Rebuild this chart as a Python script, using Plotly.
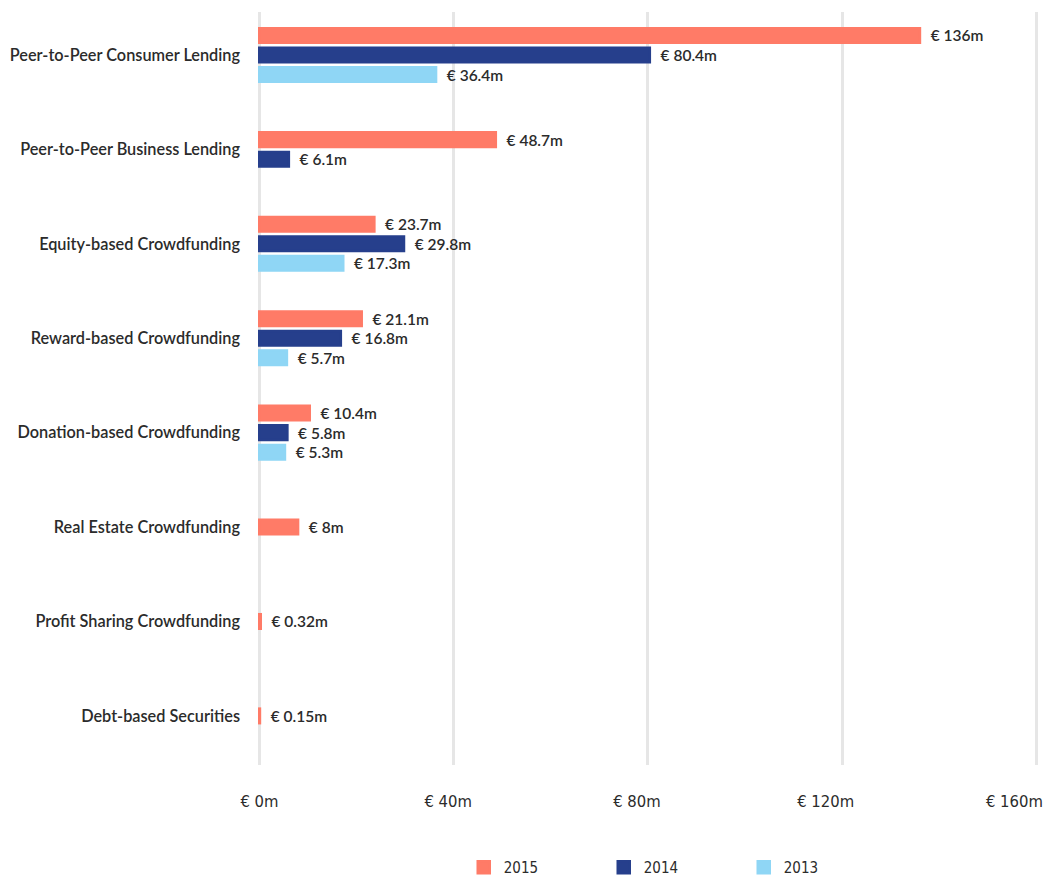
import plotly.graph_objects as go

categories = [
    "Peer-to-Peer Consumer Lending",
    "Peer-to-Peer Business Lending",
    "Equity-based Crowdfunding",
    "Reward-based Crowdfunding",
    "Donation-based Crowdfunding",
    "Real Estate Crowdfunding",
    "Profit Sharing Crowdfunding",
    "Debt-based Securities",
]
years = ["2015", "2014", "2013"]
vals_2015 = [136, 48.7, 23.7, 21.1, 10.4, 8, 0.32, 0.15]
vals_2014 = [80.4, 6.1, 29.8, 16.8, 5.8, None, None, None]
vals_2013 = [36.4, None, 17.3, 5.7, 5.3, None, None, None]
x_ticks = [0, 40, 80, 120, 160]

colors = {"2015": "#ff7b67", "2014": "#263f8c", "2013": "#8fd6f5"}
series = {"2015": vals_2015, "2014": vals_2014, "2013": vals_2013}

BAR_W = 0.154
PITCH = 0.207

# bars of a category are centred on it using only the years that have data
def offsets(year):
    out = []
    for k in range(len(categories)):
        present = [y for y in years if series[y][k] is not None]
        if year not in present:
            out.append(0)
            continue
        i, n = present.index(year), len(present)
        out.append((i - (n - 1) / 2) * PITCH - BAR_W / 2)
    return out

fig = go.Figure()
for y in years:
    v = series[y]
    fig.add_trace(go.Bar(
        name=y, y=categories, x=v, orientation="h",
        marker=dict(color=colors[y], line=dict(color=colors[y], width=2.5)),
        width=BAR_W, offset=offsets(y),
        text=["\u00a0\u00a0€ %gm" % a if a is not None else "" for a in v],
        textposition="outside", cliponaxis=False, constraintext="none",
        textfont=dict(family="Lato", size=15.5, color="#2b2b2b", weight=600),
    ))

# invisible trace so the label axis gets drawn
fig.add_trace(go.Scatter(x=x_ticks, y=[categories[0]] * len(x_ticks), xaxis="x2",
                         mode="markers", marker=dict(opacity=0),
                         showlegend=False, hoverinfo="skip"))

tick_font = dict(family="DejaVu Sans Condensed", size=16.5, color="#2b2b2b")

fig.update_layout(
    width=1047, height=877, barmode="overlay",
    paper_bgcolor="white", plot_bgcolor="white",
    margin=dict(l=258, r=9, t=12, b=112, autoexpand=False),
    font=dict(family="Lato", color="#2b2b2b"),
    xaxis=dict(range=[-0.25, 160.3], tickvals=x_ticks, showticklabels=False,
               showgrid=True, gridcolor="#e6e6e6", gridwidth=2.5,
               zeroline=False, showline=False, ticks=""),
    # tick labels sit on a slightly tighter scale in the original, so keep the last one inside
    xaxis2=dict(overlaying="x", anchor="y", side="bottom", range=[-0.3, 165],
                tickvals=x_ticks, ticktext=["€ %gm" % t for t in x_ticks],
                showgrid=False, zeroline=False, showline=False, ticks="",
                ticklabelstandoff=24, ticklabeloverflow="allow", tickfont=tick_font),
    yaxis=dict(categoryorder="array", categoryarray=categories,
               range=[7.52, -0.455], showgrid=False, zeroline=False,
               showline=False, ticks="", ticklabelstandoff=17,
               tickfont=dict(family="Lato", size=16.3, color="#2b2b2b", weight=600)),
    legend=dict(orientation="h", x=0.533, xanchor="center", y=-0.136, yanchor="middle",
                entrywidth=95, entrywidthmode="pixels",
                font=dict(family="DejaVu Sans Condensed", size=15, color="#2b2b2b")),
)

fig.write_html("out.html", config={"displayModeBar": False},
               post_script="document.body.style.margin='0';")
